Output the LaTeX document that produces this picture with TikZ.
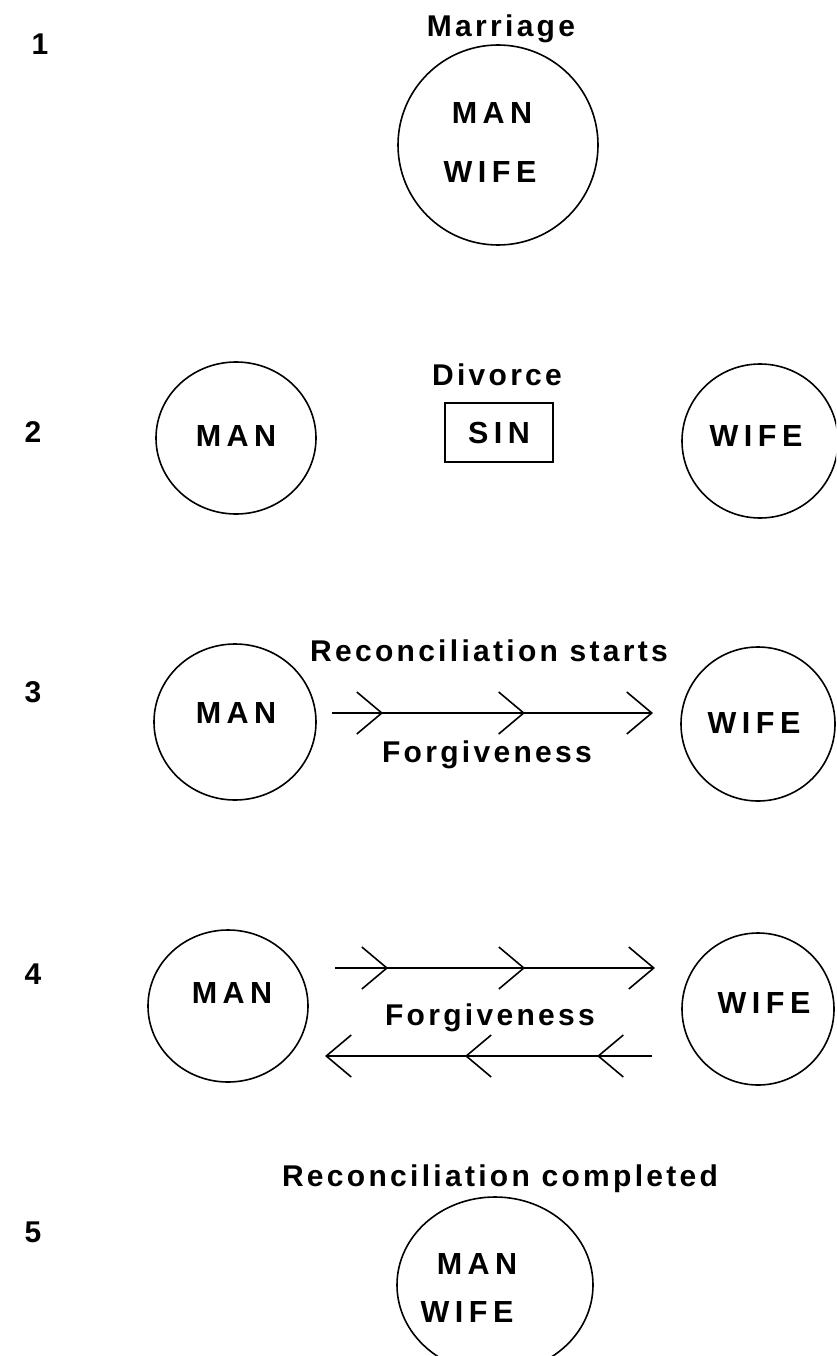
\documentclass[tikz,border=0pt]{standalone}
\usepackage{fontspec}
\setmainfont{Liberation Sans}
\newfontfamily\capsfont[LetterSpace=18]{Liberation Sans}
\newfontfamily\lowfont[LetterSpace=11]{Liberation Sans}
\usetikzlibrary{shapes.geometric,arrows.meta,decorations.markings}
\begin{document}
\begin{tikzpicture}[x=1pt,y=-1pt,
  ring/.style={draw, ellipse, line width=1.6pt, inner sep=0pt},
  caps/.style={font=\capsfont\bfseries\fontsize{30.5}{36}\selectfont, anchor=base, inner sep=0pt},
  lbl/.style={font=\lowfont\bfseries\fontsize{30}{36}\selectfont, anchor=base, inner sep=0pt},
  sinbox/.style={draw, line width=1.6pt, inner sep=0pt, minimum width=108pt, minimum height=59pt,
    font=\capsfont\bfseries\fontsize{30.5}{36}\selectfont},
  barb/.tip={Straight Barb[length=25pt,width=42pt]},
  flow/.style={line width=1.6pt, -{barb}},
  chevrons/.style 2 args={postaction={decorate}, decoration={markings,
    mark=at position #1 with {\arrow{barb}},
    mark=at position #2 with {\arrow{barb}}}}
]
\useasboundingbox (0,0) rectangle (836,1356);
\clip (0,0) rectangle (836,1356);

% ---- row 1: Marriage
\node[lbl] (n1) at (40,55) {1};
\node[lbl] (marriage) at (501,37) {Marriage};
\node[ring, minimum width=200pt, minimum height=200pt] (c1) at (498,145) {};
\node[caps] (man1) at (492,124) {MAN};
\node[caps] (wife1) at (490,183) {WIFE};

% ---- row 2: Divorce
\node[lbl] (n2) at (33,442) {2};
\node[ring, minimum width=160pt, minimum height=152pt] (c2m) at (236,438) {};
\node[caps] (man2) at (236,446) {MAN};
\node[lbl] (divorce) at (497,385) {Divorce};
\node[sinbox] (sin) at (499,432.5) {SIN};
\node[ring, minimum width=156pt, minimum height=154pt] (c2w) at (760,441) {};
\node[caps] (wife2) at (756,446) {WIFE};

% ---- row 3: Reconciliation starts
\node[lbl] (n3) at (33,702) {3};
\node[ring, minimum width=162pt, minimum height=156pt] (c3m) at (235,722) {};
\node[caps] (man3) at (236,723) {MAN};
\node[lbl] (recstart) at (489,661) {Reconciliation starts};
\node[lbl] (forg3) at (487,762) {Forgiveness};
\node[ring, minimum width=154pt, minimum height=154pt] (c3w) at (758,724) {};
\node[caps] (wife3) at (754,733) {WIFE};
\coordinate (a3s) at (332,713);
\coordinate (a3e) at (653,713);
\draw[flow, chevrons={0.159}{0.601}] (a3s) -- (a3e);

% ---- row 4: Forgiveness both ways
\node[lbl] (n4) at (33,984) {4};
\node[ring, minimum width=160pt, minimum height=152pt] (c4m) at (228,1006) {};
\node[caps] (man4) at (232,1003) {MAN};
\node[lbl] (forg4) at (490,1025) {Forgiveness};
\node[ring, minimum width=152pt, minimum height=152pt] (c4w) at (758,1009) {};
\node[caps] (wife4) at (764,1013) {WIFE};
\coordinate (a4s) at (335,968);
\coordinate (a4e) at (655,968);
\draw[flow, chevrons={0.166}{0.594}] (a4s) -- (a4e);
\coordinate (b4s) at (652,1056);
\coordinate (b4e) at (325,1056);
\draw[flow, chevrons={0.168}{0.572}] (b4s) -- (b4e);

% ---- row 5: Reconciliation completed
\node[lbl] (n5) at (33,1242) {5};
\node[lbl] (reccomp) at (500,1186) {Reconciliation completed};
\node[ring, minimum width=196pt, minimum height=176pt] (c5) at (495,1285) {};
\node[caps] (man5) at (477,1274) {MAN};
\node[caps] (wife5) at (467,1322) {WIFE};
\end{tikzpicture}
\end{document}
